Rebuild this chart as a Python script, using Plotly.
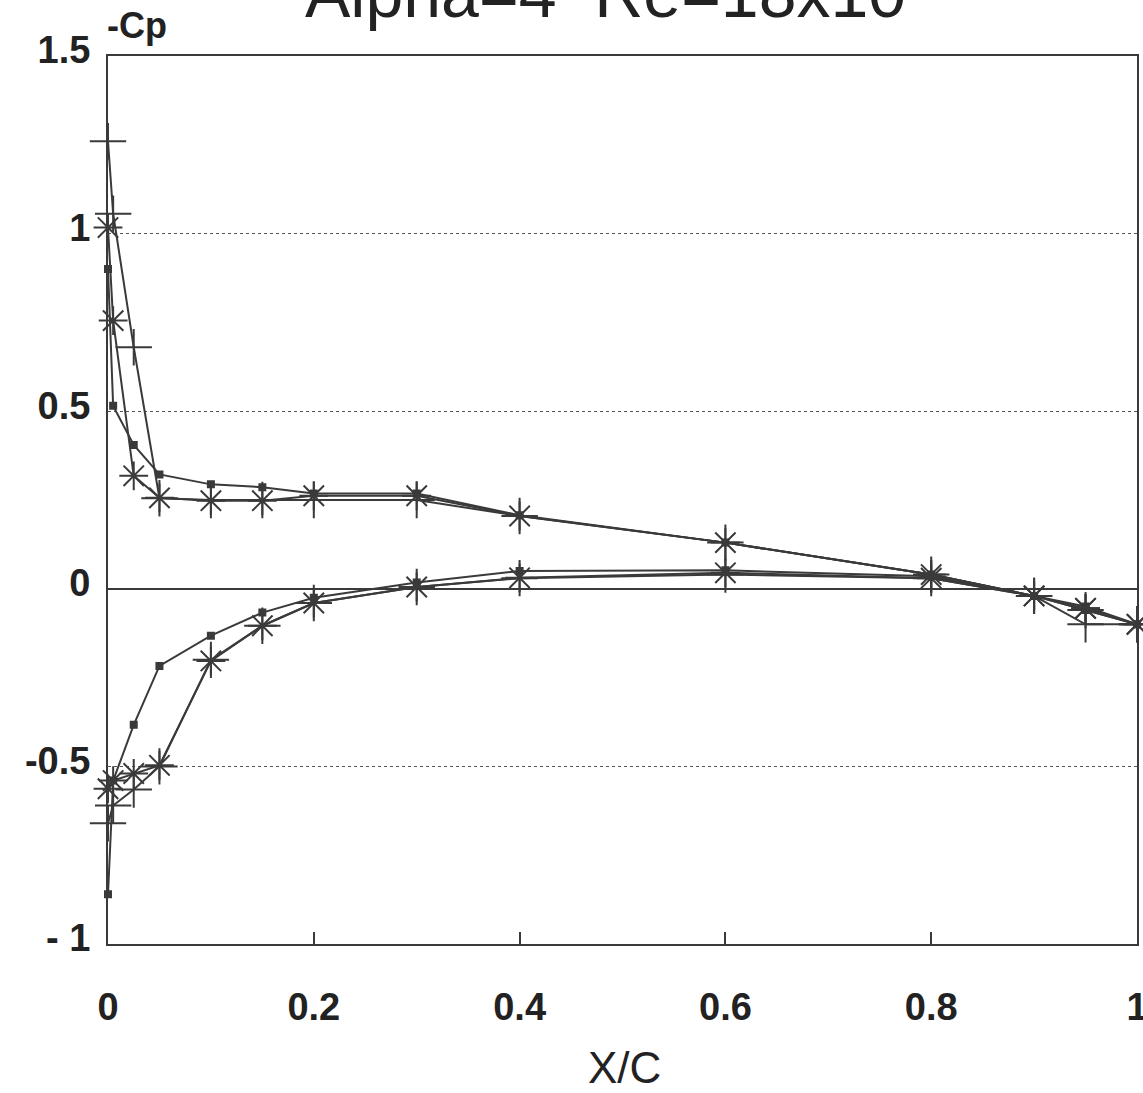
import plotly.graph_objects as go

# chordwise pressure-tap stations (x/c)
x_stations = [0, 0.005, 0.025, 0.05, 0.1, 0.15, 0.2, 0.3, 0.4, 0.6, 0.8, 0.9, 0.95, 1.0]

# -Cp, upper and lower surface, three data sets
plus_upper = [1.26, 1.056, 0.68, 0.255, 0.25, 0.25, 0.25, 0.25, 0.205, 0.13, 0.04, -0.02, -0.06, -0.10]
plus_lower = [-0.66, -0.61, -0.565, -0.50, -0.20, -0.104, -0.04, 0.005, 0.03, 0.04, 0.03, -0.02, -0.10, -0.10]

square_upper = [0.90, 0.515, 0.405, 0.322, 0.294, 0.286, 0.268, 0.268, 0.207, 0.13, 0.04, -0.02, -0.05, -0.10]
square_lower = [-0.86, -0.54, -0.383, -0.217, -0.132, -0.067, -0.025, 0.018, 0.05, 0.052, 0.035, -0.02, -0.06, -0.10]

star_upper = [1.017, 0.755, 0.318, 0.256, 0.248, 0.248, 0.262, 0.262, 0.205, 0.13, 0.04, -0.02, -0.055, -0.10]
star_lower = [-0.563, -0.54, -0.52, -0.497, -0.203, -0.104, -0.04, 0.005, 0.031, 0.045, 0.03, -0.02, -0.055, -0.10]

y_tickvals = [-1, -0.5, 0, 0.5, 1, 1.5]
y_ticktext = ["- 1", "-0.5", "0", "0.5", "1", "1.5"]
x_tickvals = [0, 0.2, 0.4, 0.6, 0.8, 1]
x_ticktext = ["0", "0.2", "0.4", "0.6", "0.8", "1"]

INK = "#3a3a3a"
TEXT = "#222"
FONT = "Liberation Sans, Arial, sans-serif"


def loop(upper, lower):
    # walk the upper surface LE -> TE, then the lower surface TE -> LE
    return x_stations + x_stations[::-1], upper + lower[::-1]


fig = go.Figure()

for upper, lower, symbol, size in [
    (plus_upper, plus_lower, "cross-thin", 26),
    (square_upper, square_lower, "square", 6),
    (star_upper, star_lower, "asterisk", 24),
]:
    xs, ys = loop(upper, lower)
    fig.add_trace(go.Scatter(
        x=xs, y=ys, mode="lines+markers",
        line=dict(color=INK, width=2),
        marker=dict(symbol=symbol, size=size, color=INK,
                    line=dict(color=INK, width=2)),
        cliponaxis=False,
        showlegend=False,
    ))

fig.update_layout(
    width=1143, height=1093,
    margin=dict(l=108, r=6, t=56, b=149),
    paper_bgcolor="white", plot_bgcolor="white",
    font=dict(family=FONT, color=TEXT),
    xaxis=dict(
        range=[0, 1], tickvals=x_tickvals, ticktext=x_ticktext,
        ticks="inside", ticklen=12, tickwidth=2, tickcolor=INK,
        showline=True, linecolor=INK, linewidth=2, mirror=True,
        showgrid=False, zeroline=False, automargin=False,
        tickfont=dict(size=38, family=FONT, weight="bold"),
        ticklabelstandoff=28, ticklabeloverflow="allow",
    ),
    yaxis=dict(
        range=[-1, 1.5], tickvals=y_tickvals, ticktext=y_ticktext,
        ticks="", showline=True, linecolor=INK, linewidth=2, mirror=True,
        showgrid=True, gridcolor="#555", gridwidth=1, griddash="dot",
        zeroline=True, zerolinecolor=INK, zerolinewidth=1.5, automargin=False,
        tickfont=dict(size=38, family=FONT, weight="bold"),
        ticklabelstandoff=8, ticklabelshift=-6,
    ),
    annotations=[
        dict(text="Alpha=4  Re=18x10", xref="paper", yref="paper",
             x=0.483, y=1.026, xanchor="center", yanchor="bottom",
             showarrow=False, font=dict(size=68, family=FONT, color=TEXT)),
        dict(text="-Cp", xref="paper", yref="paper",
             x=-0.003, y=1.034, xanchor="left", yanchor="middle",
             showarrow=False, font=dict(size=36, family=FONT, color=TEXT, weight="bold")),
        dict(text="X/C", xref="paper", yref="paper",
             x=0.502, y=-0.169, xanchor="center", yanchor="bottom",
             showarrow=False, font=dict(size=44, family=FONT, color=TEXT)),
    ],
)

fig.write_html("out.html")
